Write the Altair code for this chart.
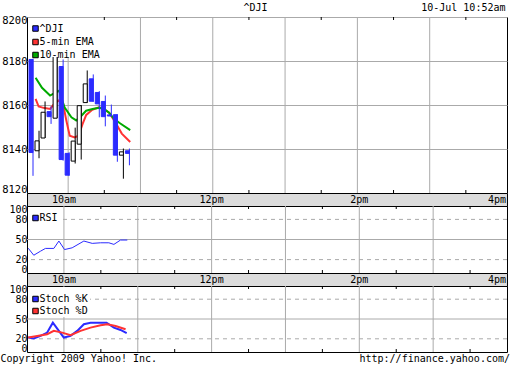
import altair as alt
import pandas as pd

# ---------------- data (minutes after 9:30am) ----------------
candle_min = [0, 5, 10, 15, 20, 25, 30, 35, 40, 45, 50, 55, 60, 65, 70, 75, 80]
opens  = [8180.7, 8139.2, 8145.0, 8157.0, 8154.0, 8177.5, 8138.0, 8134.5, 8142.2,
          8161.1, 8171.9, 8165.7, 8161.6, 8155.5, 8155.6, 8137.2, 8139.2]
closes = [8138.4, 8143.7, 8156.7, 8154.7, 8182.5, 8135.2, 8128.1, 8143.6, 8159.7,
          8169.6, 8161.7, 8160.5, 8154.7, 8155.0, 8137.2, 8138.7, 8138.0]
highs  = [8181.0, 8148.3, 8161.6, 8159.4, 8183.0, 8180.7, 8138.5, 8149.7, 8160.0,
          8175.7, 8173.9, 8166.3, 8164.3, 8160.2, 8155.8, 8140.2, 8140.2]
lows   = [8127.8, 8135.8, 8145.0, 8151.4, 8154.0, 8134.7, 8127.8, 8133.4, 8135.2,
          8161.0, 8161.4, 8154.4, 8150.3, 8154.8, 8134.2, 8126.5, 8132.6]

ema5_min = [3, 5.5, 9.5, 15, 18, 22, 26, 28.5, 31.3, 35.4, 38.6, 42, 45, 50, 55.5, 59, 64, 69, 74.5, 81.5]
ema5_val = [8162.8, 8159.3, 8158.7, 8158.2, 8160.2, 8162.0, 8160.0, 8152.9, 8146.0, 8145.3,
            8146.0, 8151.4, 8155.5, 8157.8, 8159.0, 8158.3, 8156.5, 8152.3, 8147.0, 8143.2]
ema10_min = [3, 8.3, 15, 19, 22.5, 27, 32.7, 36.7, 40.8, 44.9, 50.2, 55.7, 59.8, 64, 68, 73.3, 81.5]
ema10_val = [8172.4, 8167.8, 8164.3, 8165.5, 8166.5, 8159.0, 8154.4, 8153.0, 8155.0, 8157.4,
             8158.2, 8158.7, 8158.2, 8156.5, 8153.7, 8151.6, 8148.6]

rsi_min = [1, 5.5, 11, 15, 21.8, 25.9, 30.5, 36.7, 46.2, 53, 59.8, 66.5, 70.6, 76, 81.5]
rsi_val = [37, 26.5, 32.6, 36.7, 36.7, 47.7, 35, 37.6, 47.7, 44.2, 45.1, 45.1, 42.7, 49.2, 49.2]

k_min = [1, 5.5, 11, 16.4, 21, 25.9, 29.9, 35.4, 40.8, 46.2, 51.6, 59.8, 64.6, 70.6, 76, 81]
k_val = [21.9, 20.4, 24.4, 29.4, 44.4, 31.9, 21.9, 24.4, 32, 42, 44.4, 44.4, 44.4, 36.9, 33.4, 28.5]
d_min = [1, 8.3, 16.4, 21.8, 28.6, 35.4, 43.5, 51.6, 59.8, 65.2, 72, 80.1]
d_val = [21.9, 24.4, 27, 32, 29.4, 25.5, 32, 36.9, 40.5, 42, 39.4, 34.5]

hour_marks = [30, 90, 150, 210, 270, 330]
half_marks = [60, 120, 180, 240, 300, 360]
band_pos = [30, 150, 270, 390]
band_labels = ["10am", "12pm", "2pm", "4pm"]
main_ticks = [8120, 8140, 8160, 8180, 8200]
osc_ticks = [0, 20, 50, 80, 100]
dashed_levels = [20, 80]
solid_levels = [50]

main_legend = ["^DJI", "5-min EMA", "10-min EMA"]
rsi_legend = ["RSI"]
stoch_legend = ["Stoch %K", "Stoch %D"]

ticker = "^DJI"
stamp = "10-Jul 10:52am"
copyright_txt = "Copyright 2009 Yahoo! Inc."
url_txt = "http://finance.yahoo.com/"

# ---------------- style ----------------
BLUE = "#2b2bff"
RED = "#ff3333"
GREEN = "#00aa00"
GRID = "#aaaaaa"
BAND = "#dcdcdc"
MONO = "DejaVu Sans Mono"
W = 480
H_MAIN, H_BAND, H_RSI, H_STO = 176, 13, 67, 66

x_scale = alt.Scale(domain=[0, 390], nice=False, zero=False)


def X(field="t"):
    return alt.X(f"{field}:Q", scale=x_scale, axis=None)


def make_axis(vals, grid, size):
    return alt.Axis(values=vals, grid=grid, gridColor=GRID, domain=False, ticks=False, title=None,
                    labelFlush=True, labelFlushOffset=1.5, labelPadding=0, labelFont=MONO,
                    labelFontSize=size, labelColor="black", labelOverlap=False, format="d")


def time_grid(h):
    hours = alt.Chart(pd.DataFrame({"t": hour_marks})).mark_rule(color=GRID, strokeWidth=1).encode(x=X())
    top = alt.Chart(pd.DataFrame({"t": half_marks})).mark_rule(color="black").encode(
        x=X(), y=alt.value(0), y2=alt.value(3))
    bot = alt.Chart(pd.DataFrame({"t": half_marks})).mark_rule(color="black").encode(
        x=X(), y=alt.value(h - 3), y2=alt.value(h))
    return [hours, top, bot]


def legend_marks(labels, colors, rows, box_w, box_h):
    """Legend box drawn inside the panel's top-left corner."""
    layers = [alt.Chart(pd.DataFrame({"k": [0]})).mark_rect(color="white").encode(
        x=alt.value(1), x2=alt.value(box_w), y=alt.value(1), y2=alt.value(box_h))]
    for lab, col, ry in zip(labels, colors, rows):
        df = pd.DataFrame({"series": [lab]})
        layers.append(alt.Chart(df).mark_square(
            size=30, filled=True, color=col, stroke="black", strokeWidth=1, opacity=1).encode(
            x=alt.value(8.5), y=alt.value(ry)))
        layers.append(alt.Chart(df).mark_text(
            font=MONO, fontSize=10, align="left", baseline="middle").encode(
            x=alt.value(12.5), y=alt.value(ry), text="series:N"))
    return layers


# ---------------- main price panel ----------------
main_scale = alt.Scale(domain=[8120, 8200], nice=False, zero=False)
main_axis = make_axis(main_ticks, True, 10.5)

cdf = pd.DataFrame({"t": candle_min, "open": opens, "close": closes, "high": highs, "low": lows})
down = "datum.open > datum.close"

ema_df = pd.concat([
    pd.DataFrame({"t": ema5_min, "v": ema5_val, "series": "5-min EMA"}),
    pd.DataFrame({"t": ema10_min, "v": ema10_val, "series": "10-min EMA"}),
])

ema = alt.Chart(ema_df).mark_line(strokeWidth=2).encode(
    x=X(), y=alt.Y("v:Q", scale=main_scale, axis=main_axis),
    stroke=alt.Stroke("series:N", scale=alt.Scale(domain=main_legend, range=[BLUE, RED, GREEN]),
                      legend=None))

wicks = alt.Chart(cdf).mark_rule(strokeWidth=1, xOffset=1).encode(
    x=X(), y=alt.Y("low:Q", scale=main_scale, axis=main_axis), y2="high:Q",
    color=alt.condition(down, alt.value(BLUE), alt.value("black")))

bodies = alt.Chart(cdf).mark_bar(width=4, strokeWidth=1, xOffset=-1).encode(
    x=X(), y=alt.Y("open:Q", scale=main_scale, axis=main_axis), y2="close:Q",
    color=alt.condition(down, alt.value(BLUE), alt.value("white")),
    stroke=alt.condition(down, alt.value(BLUE), alt.value("black")))

head_df = pd.DataFrame({"a": [ticker], "b": [stamp]})
head1 = alt.Chart(head_df).mark_text(font=MONO, fontSize=10, align="center", baseline="middle").encode(
    x=alt.value(228.5), y=alt.value(-9), text="a:N")
head2 = alt.Chart(head_df).mark_text(font=MONO, fontSize=10, align="right", baseline="middle").encode(
    x=alt.value(478.5), y=alt.value(-9), text="b:N")

main = alt.layer(
    *time_grid(H_MAIN), ema, wicks, bodies,
    *legend_marks(main_legend, [BLUE, RED, GREEN], [11.5, 25, 38], 76, 40),
    head1, head2,
).properties(width=W, height=H_MAIN)


# ---------------- time bands ----------------
def band():
    bdf = pd.DataFrame({"t": band_pos, "lab": band_labels})
    mid = alt.Chart(bdf).transform_filter("datum.t < 390").mark_text(
        font=MONO, fontSize=10, align="center", baseline="middle").encode(
        x=X(), y=alt.value(H_BAND / 2 + 0.5), text="lab:N")
    end = alt.Chart(bdf).transform_filter("datum.t >= 390").mark_text(
        font=MONO, fontSize=10, align="right", baseline="middle", dx=-1).encode(
        x=X(), y=alt.value(H_BAND / 2 + 0.5), text="lab:N")
    return alt.layer(mid, end).properties(
        width=W, height=H_BAND, view=alt.ViewBackground(fill=BAND, stroke="black"))


# ---------------- oscillator panels ----------------
osc_scale = alt.Scale(domain=[0, 100], nice=False, zero=False)
osc_axis = make_axis(osc_ticks, False, 10)


def level_rules():
    dashed = alt.Chart(pd.DataFrame({"v": dashed_levels})).mark_rule(
        color=GRID, strokeDash=[4, 4]).encode(y=alt.Y("v:Q", scale=osc_scale, axis=osc_axis))
    solid = alt.Chart(pd.DataFrame({"v": solid_levels})).mark_rule(
        color=GRID).encode(y=alt.Y("v:Q", scale=osc_scale, axis=osc_axis))
    return [dashed, solid]


rsi_df = pd.DataFrame({"t": rsi_min, "v": rsi_val, "series": "RSI"})
rsi_line = alt.Chart(rsi_df).mark_line(strokeWidth=1).encode(
    x=X(), y=alt.Y("v:Q", scale=osc_scale, axis=osc_axis),
    stroke=alt.Stroke("series:N", scale=alt.Scale(domain=rsi_legend, range=[BLUE]), legend=None))
rsi = alt.layer(
    *time_grid(H_RSI), *level_rules(), rsi_line,
    *legend_marks(rsi_legend, [BLUE], [12], 36, 19),
).properties(width=W, height=H_RSI)

sto_df = pd.concat([
    pd.DataFrame({"t": k_min, "v": k_val, "series": "Stoch %K"}),
    pd.DataFrame({"t": d_min, "v": d_val, "series": "Stoch %D"}),
])
sto_line = alt.Chart(sto_df).mark_line(strokeWidth=2).encode(
    x=X(), y=alt.Y("v:Q", scale=osc_scale, axis=osc_axis),
    stroke=alt.Stroke("series:N", scale=alt.Scale(domain=stoch_legend, range=[BLUE, RED]), legend=None))

foot_df = pd.DataFrame({"a": [copyright_txt], "b": [url_txt]})
foot1 = alt.Chart(foot_df).mark_text(font=MONO, fontSize=10, align="left", baseline="middle").encode(
    x=alt.value(-26.5), y=alt.value(H_STO + 7), text="a:N")
foot2 = alt.Chart(foot_df).mark_text(font=MONO, fontSize=10, align="right", baseline="middle").encode(
    x=alt.value(483), y=alt.value(H_STO + 7), text="b:N")

sto = alt.layer(
    *time_grid(H_STO), *level_rules(), sto_line,
    *legend_marks(stoch_legend, [BLUE, RED], [13, 25], 63, 31),
    foot1, foot2,
).properties(width=W, height=H_STO)

chart = alt.vconcat(main, band(), rsi, band(), sto, spacing=0, bounds="flush").resolve_scale(
    stroke="independent"
).properties(
    padding={"left": 0, "top": 2, "right": 0, "bottom": 0}, background="white"
).configure_view(stroke="black", strokeWidth=1)

chart.save("out.html", embed_options={"renderer": "svg", "actions": False})
